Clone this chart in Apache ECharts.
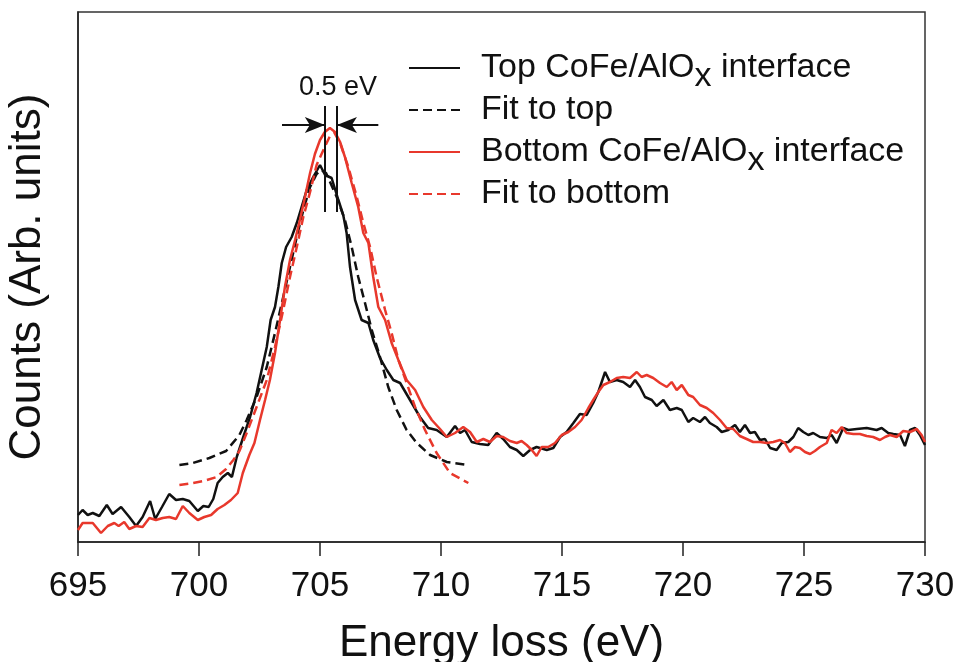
<!DOCTYPE html>
<html><head><meta charset="utf-8">
<script src="https://cdn.jsdelivr.net/npm/echarts/dist/echarts.min.js"></script>
<style>html,body{margin:0;padding:0;background:#fff}#c{width:959px;height:662px}</style>
</head><body><div id="c"></div>
<script>
// ---- data (energy loss in eV, counts in arbitrary units) ----
const xTickValues = [695, 700, 705, 710, 715, 720, 725, 730];
const seriesNames = ['Top CoFe/AlOx interface', 'Fit to top', 'Bottom CoFe/AlOx interface', 'Fit to bottom'];

const topCurve = [[695.00,27],[695.19,32],[695.40,27],[695.61,29],[695.88,26],[696.19,37],[696.43,28],[696.78,35],[697.12,25],[697.40,16],[697.67,25],[697.98,41],[698.19,23],[698.47,35],[698.77,48],[699.05,42],[699.33,43],[699.60,41],[699.95,31],[700.18,36],[700.40,35],[700.59,43],[700.77,59],[700.98,65],[701.19,69],[701.36,65],[701.56,85],[701.83,105],[702.11,125],[702.38,149],[702.59,172],[702.80,195],[702.96,222],[703.14,235],[703.28,255],[703.42,279],[703.60,295],[703.83,305],[704.04,319],[704.24,335],[704.45,352],[704.72,365],[705.00,377],[705.21,367],[705.48,364],[705.76,342],[705.96,327],[706.10,309],[706.24,275],[706.45,242],[706.72,222],[707.00,219],[707.20,202],[707.48,184],[707.76,172],[708.03,162],[708.31,159],[708.72,142],[709.13,125],[709.47,114],[709.82,112],[710.24,105],[710.58,116],[710.79,109],[710.99,112],[711.27,100],[711.61,98],[711.95,97],[712.30,109],[712.57,103],[712.85,95],[713.13,92],[713.40,86],[713.68,92],[713.95,95],[714.37,92],[714.64,94],[714.92,105],[715.19,110],[715.47,119],[715.74,128],[716.02,127],[716.29,139],[716.50,150],[716.64,160],[716.78,170],[716.98,160],[717.26,162],[717.53,160],[717.81,155],[718.02,162],[718.22,155],[718.43,145],[718.71,142],[718.91,136],[719.19,142],[719.46,132],[719.74,134],[719.95,132],[720.22,120],[720.42,124],[720.70,120],[720.91,125],[721.11,119],[721.39,115],[721.60,110],[721.87,112],[722.15,117],[722.35,110],[722.56,117],[722.77,109],[722.97,110],[723.18,102],[723.39,103],[723.60,94],[723.87,92],[724.08,99],[724.35,100],[724.56,105],[724.76,114],[724.97,110],[725.18,107],[725.38,109],[725.66,105],[725.94,104],[726.14,107],[726.35,99],[726.62,114],[726.83,112],[727.18,113],[727.59,114],[728.00,112],[728.21,114],[728.48,109],[728.69,108],[728.97,107],[729.17,96],[729.38,112],[729.59,114],[729.79,107],[730.00,97]];

const fitTop = [[699.19,77],[699.74,79],[700.43,84],[701.12,91],[701.67,107],[701.97,122],[702.38,145],[702.80,175],[703.14,209],[703.48,245],[703.76,275],[704.04,305],[704.31,332],[704.59,355],[704.86,368],[705.05,372],[705.25,369],[705.69,345],[706.03,322],[706.31,295],[706.58,265],[706.86,239],[707.14,212],[707.48,185],[707.82,155],[708.17,132],[708.58,112],[709.00,99],[709.55,87],[710.24,80],[711.13,77]];

const bottomCurve = [[695.00,12],[695.19,19],[695.61,19],[695.95,9],[696.23,16],[696.50,19],[696.68,16],[696.91,20],[697.12,13],[697.40,16],[697.67,15],[697.95,24],[698.22,22],[698.50,24],[698.77,25],[699.05,23],[699.33,36],[699.60,29],[699.95,22],[700.22,25],[700.50,27],[700.77,33],[701.05,37],[701.32,42],[701.60,49],[701.81,69],[702.08,87],[702.29,99],[702.52,122],[702.73,142],[702.93,162],[703.14,189],[703.35,222],[703.55,255],[703.76,282],[703.97,302],[704.17,322],[704.38,345],[704.59,369],[704.79,388],[705.00,402],[705.20,410],[705.41,414],[705.62,410],[705.83,400],[706.03,385],[706.31,359],[706.58,335],[706.79,309],[707.00,299],[707.20,265],[707.41,235],[707.69,222],[707.96,199],[708.24,182],[708.58,162],[708.93,152],[709.27,135],[709.62,122],[709.96,113],[710.24,105],[710.58,109],[710.92,115],[711.20,110],[711.48,100],[711.75,103],[712.02,100],[712.30,106],[712.57,105],[712.85,101],[713.13,99],[713.33,101],[713.54,97],[713.75,92],[713.95,86],[714.16,95],[714.43,95],[714.71,99],[714.99,107],[715.26,110],[715.54,115],[715.81,122],[716.09,134],[716.29,142],[716.50,150],[716.71,157],[716.98,160],[717.26,164],[717.53,165],[717.81,164],[718.09,170],[718.29,165],[718.50,167],[718.77,164],[719.05,159],[719.33,155],[719.53,160],[719.74,152],[719.95,157],[720.22,147],[720.42,145],[720.70,137],[720.98,134],[721.25,129],[721.53,122],[721.80,114],[722.08,113],[722.35,106],[722.63,103],[722.90,100],[723.18,100],[723.46,99],[723.73,100],[724.01,102],[724.21,99],[724.42,90],[724.63,95],[724.83,94],[725.04,90],[725.25,88],[725.45,91],[725.66,95],[725.94,99],[726.14,112],[726.35,109],[726.56,115],[726.76,109],[727.04,108],[727.31,108],[727.59,106],[727.86,105],[728.14,102],[728.35,105],[728.55,107],[728.83,105],[729.10,111],[729.38,110],[729.66,113],[729.86,107],[730.00,100]];

const fitBottom = [[699.19,57],[699.74,59],[700.20,61],[700.73,65],[701.12,73],[701.42,82],[701.67,91],[701.97,109],[702.38,135],[702.80,162],[703.14,195],[703.48,232],[703.76,265],[704.04,295],[704.31,325],[704.59,350],[704.86,377],[705.14,392],[705.41,406],[705.60,409],[705.83,399],[706.17,375],[706.52,345],[706.79,319],[707.07,295],[707.34,265],[707.69,232],[707.96,209],[708.24,182],[708.58,159],[708.93,135],[709.34,112],[709.82,89],[710.37,69],[711.13,59]];

// peak-shift annotation (data coordinates)
const peakMarks = [705.2, 705.7];
const peakMarkSpan = [330, 436];
const arrowLevel = 417;
const arrowTails = [703.43, 707.41];
const shiftText = '0.5 eV';
const shiftTextPos = [705.74, 454];

// ---- chart ----
const FONT = 'Liberation Sans, Arial, Helvetica, sans-serif';
const BLACK = '#111111';
const RED = '#e8382c';
const chart = echarts.init(document.getElementById('c'), null, {renderer: 'canvas'});

function lineSeries(name, data, color, dashed, z) {
  return {
    name: name, type: 'line', data: data, symbol: 'none', showSymbol: false,
    smooth: false, z: z, animation: false, silent: true,
    lineStyle: {color: color, width: 2.5, type: dashed ? [9, 5] : 'solid'},
    itemStyle: {color: color}
  };
}

const annoLines = [
  [{coord: [peakMarks[0], peakMarkSpan[0]], symbol: 'none'}, {coord: [peakMarks[0], peakMarkSpan[1]], symbol: 'none'}],
  [{coord: [peakMarks[1], peakMarkSpan[0]], symbol: 'none'}, {coord: [peakMarks[1], peakMarkSpan[1]], symbol: 'none'}],
  [{coord: [arrowTails[0], arrowLevel], symbol: 'none'}, {coord: [peakMarks[0], arrowLevel], symbol: 'arrow'}],
  [{coord: [arrowTails[1], arrowLevel], symbol: 'none'}, {coord: [peakMarks[1], arrowLevel], symbol: 'arrow'}]
];

const option = {
  animation: false,
  backgroundColor: '#ffffff',
  grid: {left: 78, right: 34, top: 12, bottom: 120, containLabel: false, outerBoundsMode: 'none',
         show: true, borderColor: '#333', borderWidth: 1.5, backgroundColor: 'transparent'},
  legend: {
    orient: 'vertical', left: 408, top: 42, padding: 0,
    itemWidth: 51, itemHeight: 14, itemGap: -1,
    data: seriesNames,
    selectedMode: false,
    itemStyle: {opacity: 0},
    textStyle: {fontFamily: FONT, fontSize: 34, color: BLACK, padding: [0, 0, 0, 16],
      rich: {
        a: {fontFamily: FONT, fontSize: 34, lineHeight: 34, color: BLACK},
        s: {fontFamily: FONT, fontSize: 34, lineHeight: 34, color: BLACK, padding: [18, 0, 0, 0]}
      }},
    formatter: function (n) {
      const i = n.indexOf('AlOx');
      if (i >= 0) {
        return '{a|' + n.slice(0, i) + 'AlO}{s|x}{a|' + n.slice(i + 4) + '}';
      }
      return '{a|' + n + '}';
    }
  },
  xAxis: {
    type: 'value', min: xTickValues[0], max: xTickValues[xTickValues.length - 1], interval: 5,
    name: 'Energy loss (eV)', nameLocation: 'middle', nameGap: 80,
    nameTextStyle: {fontFamily: FONT, fontSize: 44, color: BLACK},
    axisLine: {show: true, onZero: false, lineStyle: {color: '#222', width: 1.5}},
    axisTick: {show: true, inside: false, length: 14, lineStyle: {color: '#222', width: 1.5}},
    axisLabel: {fontFamily: FONT, fontSize: 35, color: BLACK, margin: 27},
    splitLine: {show: false}
  },
  yAxis: {
    type: 'value', min: 0, max: 530,
    name: 'Counts (Arb. units)', nameLocation: 'middle', nameGap: 28, nameRotate: 90,
    nameTextStyle: {fontFamily: FONT, fontSize: 44, color: BLACK},
    axisLine: {show: true, lineStyle: {color: '#222', width: 1.5}},
    axisTick: {show: false}, axisLabel: {show: false}, splitLine: {show: false}
  },
  series: [
    lineSeries(seriesNames[0], topCurve, BLACK, false, 3),
    lineSeries(seriesNames[1], fitTop, BLACK, true, 3),
    lineSeries(seriesNames[2], bottomCurve, RED, false, 4),
    lineSeries(seriesNames[3], fitBottom, RED, true, 4),
    {
      name: 'annotation', type: 'line', data: [], symbol: 'none', silent: true, z: 6,
      markLine: {
        silent: true, animation: false, symbol: ['none', 'arrow'], symbolSize: [12, 20],
        label: {show: false},
        lineStyle: {color: BLACK, width: 2, type: 'solid'},
        emphasis: {disabled: true},
        data: annoLines
      },
      markPoint: {
        silent: true, animation: false, symbol: 'circle', symbolSize: 0,
        label: {show: true, position: 'inside', fontFamily: FONT, fontSize: 27, color: BLACK,
                formatter: function () { return shiftText; }},
        data: [{coord: shiftTextPos}]
      }
    }
  ]
};
chart.setOption(option);
</script>
</body></html>
